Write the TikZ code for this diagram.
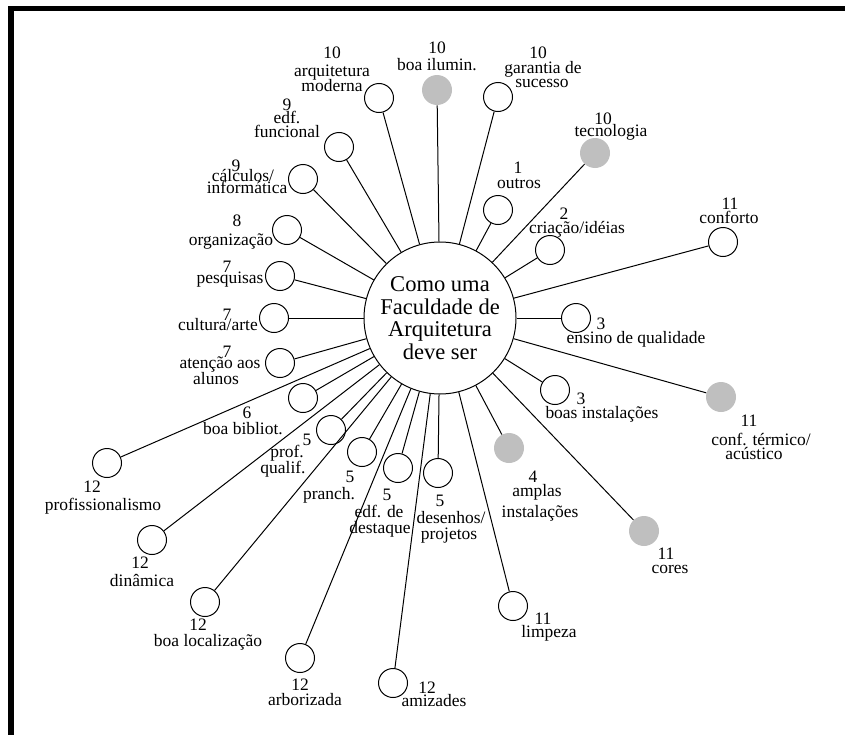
\documentclass[tikz,border=0pt]{standalone}
\usepackage{fontspec}
\setmainfont{Liberation Serif}
\begin{document}
\begin{tikzpicture}[x=0.75pt,y=-0.75pt,
  lab/.style={font=\fontsize{13.1}{15}\selectfont, inner sep=0pt, anchor=base},
  wc/.style={circle, draw, line width=0.75pt, minimum size=21.75pt, inner sep=0pt},
  gc/.style={circle, fill=black!25, minimum size=22.5pt, inner sep=0pt},
  conn/.style={line width=0.75pt}]
\useasboundingbox (0,0) rectangle (845,735);
\fill[black] (8,6) rectangle (14,735);
\fill[black] (8,6) rectangle (845,11);
\node[circle, draw, line width=0.75pt, minimum size=114pt, inner sep=0pt, align=center,
  font=\fontsize{16.9}{16.9}\selectfont] (c) at (440,318) {Como uma\\Faculdade de\\Arquitetura\\deve ser};
% outer circles
\node[wc] (arqmod) at (379,98) {};
\node[gc] (ilum) at (437,90) {};
\node[wc] (garan) at (498,97) {};
\node[gc] (tecno) at (595,153) {};
\node[wc] (edf) at (339,147) {};
\node[wc] (calc) at (303,179) {};
\node[wc] (org) at (287,230) {};
\node[wc] (pesq) at (280,276) {};
\node[wc] (cult) at (274,318) {};
\node[wc] (aten) at (280,363) {};
\node[wc] (bibl) at (303,398) {};
\node[wc] (profq) at (331,430) {};
\node[wc] (pranch) at (362,452) {};
\node[wc] (edfd) at (398,468) {};
\node[wc] (desen) at (438,473) {};
\node[wc] (profis) at (107,463) {};
\node[wc] (dinam) at (152,540) {};
\node[wc] (local) at (205,602) {};
\node[wc] (arbor) at (300,658) {};
\node[wc] (amiz) at (393,683) {};
\node[wc] (outros) at (498,210) {};
\node[wc] (criac) at (550,250) {};
\node[wc] (confort) at (723,242) {};
\node[wc] (ensino) at (576,318) {};
\node[wc] (boasinst) at (555,390) {};
\node[gc] (termico) at (721,397) {};
\node[gc] (amplas) at (509,448) {};
\node[gc] (cores) at (644,531) {};
\node[wc] (limpeza) at (513,606) {};
% connectors
\foreach \n in {arqmod,ilum,garan,tecno,edf,calc,org,pesq,cult,aten,bibl,profq,pranch,edfd,desen,profis,dinam,local,arbor,amiz,outros,criac,confort,ensino,boasinst,termico,amplas,cores,limpeza}
  \draw[conn] (\n) -- (c);
% labels
\node[lab] (a1) at (332,59) {10};
\node[lab] (a2) at (332,76) {arquitetura};
\node[lab] (a3) at (332,91) {moderna};
\node[lab] (b1) at (437,54) {10};
\node[lab] (b2) at (437,70) {boa ilumin.};
\node[lab] (c1) at (538,59) {10};
\node[lab] (c2) at (543,74) {garantia de};
\node[lab] (c3) at (542,87) {sucesso};
\node[lab] (d1) at (603,124) {10};
\node[lab] (d2) at (611,136) {tecnologia};
\node[lab] (e1) at (287,110) {9};
\node[lab] (e2) at (287,123) {edf.};
\node[lab] (e3) at (287,137) {funcional};
\node[lab] (f1) at (236,171) {9};
\node[lab] (f2) at (243,181) {cálculos/};
\node[lab] (f3) at (247,193) {informática};
\node[lab] (g1) at (237,226) {8};
\node[lab] (g2) at (231,245) {organização};
\node[lab] (h1) at (227,272) {7};
\node[lab] (h2) at (230,283) {pesquisas};
\node[lab] (i1) at (227,320) {7};
\node[lab] (i2) at (218,330) {cultura/arte};
\node[lab] (j1) at (227,357) {7};
\node[lab] (j2) at (220,368) {atenção aos};
\node[lab] (j3) at (216,384) {alunos};
\node[lab] (k1) at (247,418) {6};
\node[lab] (k2) at (243,434) {boa bibliot.};
\node[lab] (l1) at (307,445) {5};
\node[lab] (l2) at (287,457) {prof.};
\node[lab] (l3) at (283,473) {qualif.};
\node[lab] (m1) at (350,482) {5};
\node[lab] (m2) at (329,499) {pranch.};
\node[lab] (n1) at (387,500) {5};
\node[lab] (n2) at (379,517) {edf. de};
\node[lab] (n3) at (380,533) {destaque};
\node[lab] (o1) at (440,506) {5};
\node[lab] (o2) at (451,523) {desenhos/};
\node[lab] (o3) at (449,539) {projetos};
\node[lab] (p1) at (92,492) {12};
\node[lab] (p2) at (103,510) {profissionalismo};
\node[lab] (q1) at (140,568) {12};
\node[lab] (q2) at (142,586) {dinâmica};
\node[lab] (r1) at (198,630) {12};
\node[lab] (r2) at (208,646) {boa localização};
\node[lab] (s1) at (300,690) {12};
\node[lab] (s2) at (305,705) {arborizada};
\node[lab] (t1) at (427,693) {12};
\node[lab] (t2) at (434,706) {amizades};
\node[lab] (u1) at (518,173) {1};
\node[lab] (u2) at (519,188) {outros};
\node[lab] (v1) at (564,219) {2};
\node[lab] (v2) at (577,233) {criação/idéias};
\node[lab] (w1) at (730,209) {11};
\node[lab] (w2) at (729,223) {conforto};
\node[lab] (x1) at (601,329) {3};
\node[lab] (x2) at (636,343) {ensino de qualidade};
\node[lab] (y1) at (581,404) {3};
\node[lab] (y2) at (602,418) {boas instalações};
\node[lab] (z1) at (749,426) {11};
\node[lab] (z2) at (761,445) {conf. térmico/};
\node[lab] (z3) at (754,459) {acústico};
\node[lab] (aa1) at (533,482) {4};
\node[lab] (aa2) at (537,496) {amplas};
\node[lab] (aa3) at (540,517) {instalações};
\node[lab] (bb1) at (666,559) {11};
\node[lab] (bb2) at (670,573) {cores};
\node[lab] (cc1) at (543,624) {11};
\node[lab] (cc2) at (549,637) {limpeza};
\end{tikzpicture}
\end{document}
